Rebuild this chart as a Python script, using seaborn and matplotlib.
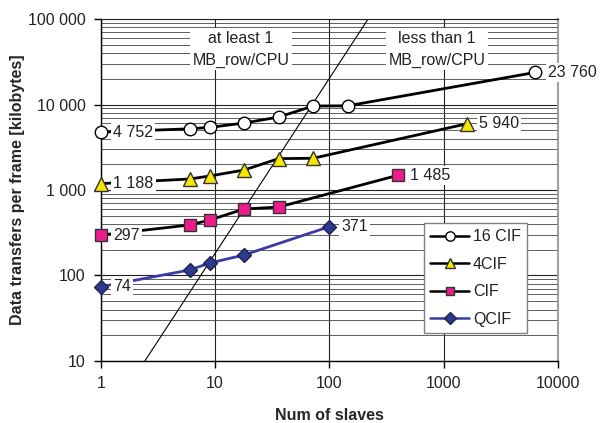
import seaborn as sns
import matplotlib.pyplot as plt
from matplotlib.ticker import FixedLocator, FixedFormatter, NullFormatter

# data
x_16cif = [1, 6, 9, 18, 36, 72, 144, 6336]
y_16cif = [4752, 5200, 5400, 6080, 7140, 9600, 9650, 23760]
x_4cif = [1, 6, 9, 18, 36, 72, 1584]
y_4cif = [1188, 1345, 1460, 1715, 2330, 2350, 5940]
x_cif = [1, 6, 9, 18, 36, 396]
y_cif = [297, 390, 446, 600, 632, 1485]
x_qcif = [1, 6, 9, 18, 99]
y_qcif = [74, 116, 140, 174, 371]

# the thin boundary line (roughly y ~ x^2)
x_bound = [2.43, 218]
y_bound = [10, 100000]

y_ticks = [10, 100, 1000, 10000, 100000]
y_ticklabels = ['10', '100', '1 000', '10 000', '100 000']
x_ticks = [1, 10, 100, 1000, 10000]
x_ticklabels = ['1', '10', '100', '1000', '10000']

sns.set_style('white')
plt.rcParams['font.family'] = ['Liberation Sans', 'DejaVu Sans']
plt.rcParams['font.size'] = 11.5
plt.rcParams['text.color'] = '#222222'
plt.rcParams['xtick.labelcolor'] = '#222222'
plt.rcParams['ytick.labelcolor'] = '#222222'

fig = plt.figure(figsize=(6, 4.23), dpi=100)
ax = fig.add_axes([0.168, 0.1466, 0.762, 0.8084])
ax.set_xscale('log')
ax.set_yscale('log')
ax.set_xlim(1, 10000)
ax.set_ylim(10, 100000)

# grid
ax.yaxis.set_minor_locator(FixedLocator([m * d for d in [10, 100, 1000, 10000] for m in range(2, 10)]))
ax.grid(True, which='major', axis='y', color='#222222', lw=0.8)
ax.grid(True, which='minor', axis='y', color='#444444', lw=0.6)
ax.grid(True, which='major', axis='x', color='#222222', lw=0.8)
ax.set_axisbelow(True)

# boundary line
sns.lineplot(x=x_bound, y=y_bound, color='black', lw=0.8, ax=ax, zorder=2)

series = [
    (x_16cif, y_16cif, '16 CIF', 'o', 'white', 'black', 'black', 9),
    (x_4cif, y_4cif, '4CIF', '^', '#F7E600', '#333333', 'black', 10),
    (x_cif, y_cif, 'CIF', 's', '#EC1C8C', '#333333', 'black', 8),
    (x_qcif, y_qcif, 'QCIF', 'D', '#2B3990', '#222244', '#3A3AA8', 7.5),
]
for xs, ys, lab, mk, fc, ec, lc, ms in series:
    sns.lineplot(x=xs, y=ys, label=lab, marker=mk, markersize=ms, markerfacecolor=fc,
                 markeredgecolor=ec, markeredgewidth=1, color=lc, lw=2, ax=ax,
                 zorder=3, clip_on=False)
    box = dict(facecolor='white', edgecolor='none', pad=1.5)
    for xi, yi in [(xs[0], ys[0]), (xs[-1], ys[-1])]:
        ax.annotate(f'{yi:,}'.replace(',', ' '), (xi, yi), xytext=(9, 0),
                    textcoords='offset points', va='center', ha='left',
                    bbox=box, zorder=4)

# region notes
note_box = dict(facecolor='white', edgecolor='none', pad=2)
ax.text(16.8, 0.965, 'at least 1\nMB_row/CPU', transform=ax.get_xaxis_transform(),
        ha='center', va='top', linespacing=1.55, bbox=note_box, zorder=4)
ax.text(870, 0.965, 'less than 1\nMB_row/CPU', transform=ax.get_xaxis_transform(),
        ha='center', va='top', linespacing=1.55, bbox=note_box, zorder=4)

# ticks
ax.xaxis.set_major_locator(FixedLocator(x_ticks))
ax.xaxis.set_major_formatter(FixedFormatter(x_ticklabels))
ax.xaxis.set_minor_formatter(NullFormatter())
ax.yaxis.set_major_locator(FixedLocator(y_ticks))
ax.yaxis.set_major_formatter(FixedFormatter(y_ticklabels))
ax.yaxis.set_minor_formatter(NullFormatter())
ax.tick_params(which='major', direction='out', length=5, width=1, color='black',
               left=True, bottom=True, pad=6)
ax.tick_params(which='minor', length=0)

for s in ['left', 'bottom']:
    ax.spines[s].set_color('black')
    ax.spines[s].set_linewidth(1)
ax.spines['right'].set_color('#a0a0a0')
ax.spines['right'].set_linewidth(1.5)
ax.spines['top'].set_color('#222222')
ax.spines['top'].set_linewidth(0.8)

ax.set_xlabel('Num of slaves', fontweight='bold', labelpad=12)
ax.set_ylabel('Data transfers per frame [kilobytes]', fontweight='bold', labelpad=2)

leg = ax.legend(loc='upper left', bbox_to_anchor=(0.707, 0.4035), frameon=True,
                fancybox=False, edgecolor='#808080', framealpha=1, handlelength=2.4,
                handletextpad=0.25, borderpad=0.4, labelspacing=0.78, borderaxespad=0,
                markerscale=0.75)
leg.get_frame().set_linewidth(1)
for line in leg.get_lines():
    line.set_linewidth(1.8)

fig.savefig('out.png', dpi=100)
